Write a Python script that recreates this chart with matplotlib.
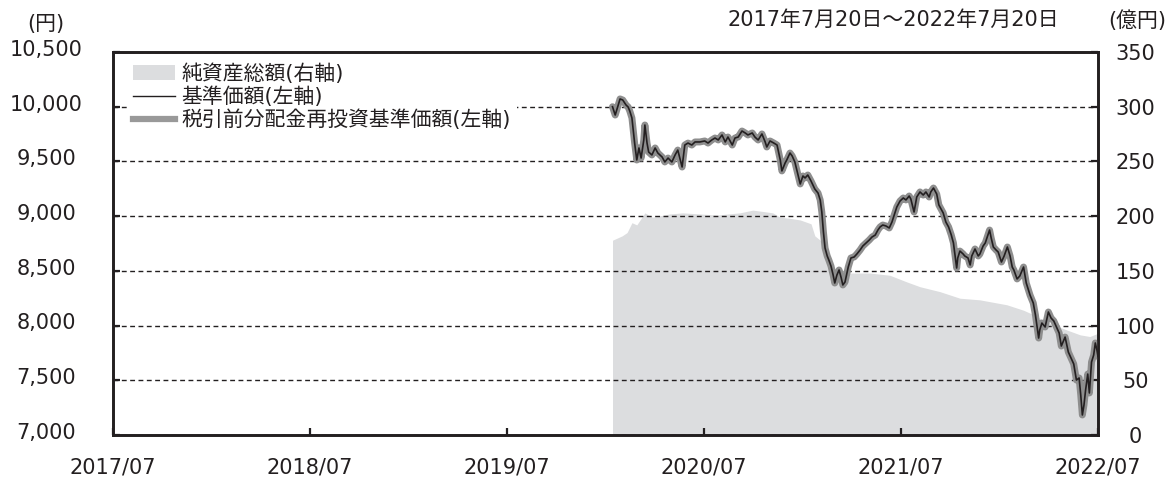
import matplotlib
matplotlib.use('Agg')
import matplotlib.pyplot as plt
import matplotlib.transforms as mtransforms
from matplotlib.patches import Patch
from matplotlib.lines import Line2D
import pandas as pd

plt.rcParams['font.family'] = ['DejaVu Sans', 'Noto Sans CJK JP']

# ---------------- data ----------------
nav_dates = [
'2020-02-01','2020-02-06','2020-02-11','2020-02-15','2020-02-20','2020-02-26','2020-03-01','2020-03-04','2020-03-08','2020-03-13',
'2020-03-17','2020-03-21','2020-03-25','2020-03-30','2020-04-01','2020-04-05','2020-04-08','2020-04-14','2020-04-20','2020-04-25',
'2020-05-03','2020-05-08','2020-05-14','2020-05-21','2020-05-27','2020-06-01','2020-06-09','2020-06-14','2020-06-20','2020-06-27',
'2020-07-03','2020-07-12','2020-07-21','2020-07-27','2020-08-03','2020-08-09','2020-08-15','2020-08-22','2020-08-28','2020-09-02',
'2020-09-10','2020-09-15','2020-09-21','2020-09-28','2020-10-04','2020-10-09','2020-10-17','2020-10-22','2020-10-28','2020-11-04',
'2020-11-10','2020-11-13','2020-11-19','2020-11-26','2020-12-02','2020-12-08','2020-12-11','2020-12-17','2020-12-20','2020-12-26',
'2020-12-30','2021-01-04','2021-01-10','2021-01-14','2021-01-19','2021-01-23','2021-01-28','2021-02-03','2021-02-10','2021-02-16',
'2021-02-20','2021-02-23','2021-02-26','2021-03-01','2021-03-05','2021-03-08','2021-03-12','2021-03-16','2021-03-19','2021-03-23',
'2021-03-27','2021-03-31','2021-04-03','2021-04-07','2021-04-13','2021-04-18','2021-04-24','2021-04-29','2021-05-05','2021-05-10',
'2021-05-16','2021-05-22','2021-05-27','2021-06-02','2021-06-07','2021-06-11','2021-06-16','2021-06-22','2021-06-28','2021-07-03',
'2021-07-09','2021-07-12','2021-07-18','2021-07-24','2021-07-29','2021-08-04','2021-08-07','2021-08-13','2021-08-18','2021-08-24',
'2021-08-30','2021-09-04','2021-09-10','2021-09-13','2021-09-18','2021-09-24','2021-09-28','2021-10-06','2021-10-11','2021-10-16',
'2021-10-21','2021-10-25','2021-10-31','2021-11-02','2021-11-06','2021-11-12','2021-11-15','2021-11-21','2021-11-25','2021-11-28',
'2021-12-04','2021-12-10','2021-12-13','2021-12-19','2021-12-23','2021-12-31','2022-01-03','2022-01-07','2022-01-12','2022-01-16',
'2022-01-22','2022-01-27','2022-02-02','2022-02-07','2022-02-11','2022-02-14','2022-02-20','2022-02-25','2022-03-04','2022-03-09',
'2022-03-16','2022-03-22','2022-03-26','2022-04-01','2022-04-03','2022-04-07','2022-04-13','2022-04-19','2022-04-24','2022-04-29',
'2022-05-04','2022-05-09','2022-05-13','2022-05-20','2022-05-26','2022-05-31','2022-06-05','2022-06-10','2022-06-15','2022-06-18',
'2022-06-21','2022-06-24','2022-06-27','2022-07-01','2022-07-04','2022-07-08','2022-07-12','2022-07-15','2022-07-18','2022-07-20',
]

# 基準価額 (円)
nav_values = [
10000, 9924, 10007, 10071, 10061, 10016, 9997, 9961, 9897, 9668,
9513, 9623, 9531, 9696, 9833, 9668, 9586, 9559, 9623, 9577,
9540, 9495, 9531, 9495, 9559, 9604, 9449, 9650, 9668, 9650,
9678, 9678, 9687, 9668, 9696, 9714, 9696, 9742, 9678, 9723,
9650, 9714, 9723, 9778, 9760, 9742, 9760, 9723, 9696, 9751,
9678, 9632, 9687, 9668, 9650, 9513, 9413, 9486, 9513, 9577,
9550, 9495, 9376, 9294, 9367, 9349, 9376, 9321, 9248, 9211,
9148, 9038, 8855, 8709, 8636, 8599, 8544, 8462, 8389, 8462,
8508, 8435, 8371, 8398, 8535, 8618, 8627, 8654, 8691, 8727,
8755, 8782, 8809, 8827, 8873, 8901, 8919, 8910, 8892, 8946,
9038, 9083, 9138, 9166, 9148, 9184, 9157, 9038, 9175, 9221,
9193, 9221, 9175, 9221, 9257, 9202, 9102, 9029, 8946, 8901,
8828, 8755, 8526, 8618, 8681, 8654, 8636, 8618, 8554, 8636,
8700, 8636, 8654, 8727, 8755, 8873, 8800, 8718, 8691, 8672,
8581, 8636, 8718, 8636, 8535, 8508, 8426, 8453, 8535, 8389,
8279, 8206, 8097, 7886, 7960, 8023, 7987, 8124, 8069, 8042,
7987, 7932, 7813, 7895, 7758, 7703, 7649, 7502, 7521, 7366,
7183, 7274, 7411, 7557, 7384, 7667, 7731, 7841, 7777, 7717,
]

# 税引前分配金再投資基準価額 (円) - no distributions, identical to NAV on the chart
reinvest_values = list(nav_values)

asset_dates = [
'2020-02-01','2020-02-19','2020-02-28','2020-03-08','2020-03-17','2020-04-01','2020-04-15','2020-05-17',
'2020-06-10','2020-07-12','2020-08-13','2020-09-24','2020-10-18','2020-11-10','2020-11-24','2020-12-08',
'2020-12-26','2021-01-14','2021-02-03','2021-02-10','2021-02-20','2021-03-03','2021-03-19','2021-04-16',
'2021-05-23','2021-06-29','2021-07-30','2021-08-24','2021-09-30','2021-11-06','2021-12-13','2022-02-01',
'2022-03-04','2022-03-22','2022-04-13','2022-05-23','2022-06-17','2022-07-05','2022-07-20',
]
# 純資産総額 (億円)
asset_values = [
178, 182, 185, 194, 192, 203, 199, 202,
203, 202, 201, 203, 205.5, 204, 203, 199,
198, 196.5, 193, 182, 178, 165, 150, 148,
148, 146, 140, 135.5, 131, 125, 123.5, 119,
114, 110, 104, 96, 91.5, 90, 93,
]

left_ticks = [7000, 7500, 8000, 8500, 9000, 9500, 10000, 10500]
right_ticks = [0, 50, 100, 150, 200, 250, 300, 350]
x_tick_dates = ['2017-07-20', '2018-07-20', '2019-07-20', '2020-07-20', '2021-07-20', '2022-07-20']
x_tick_labels = ['2017/07', '2018/07', '2019/07', '2020/07', '2021/07', '2022/07']

legend_labels = ['純資産総額(右軸)', '基準価額(左軸)', '税引前分配金再投資基準価額(左軸)']
unit_left = '(円)'
unit_right = '(億円)'
period_text = '2017年7月20日～2022年7月20日'

# ---------------- style ----------------
BLACK = '#231f20'
AREA = '#dcdddf'
GRAY = '#8e8e8e'
FS = 15

W, H = 1172, 479
fig = plt.figure(figsize=(W / 100, H / 100), dpi=100)
L, R, T, B = 113, 1098, 52, 435
ax = fig.add_axes([L / W, 1 - B / H, (R - L) / W, (B - T) / H])

# base axes: net assets (right scale)
ax.fill_between(pd.to_datetime(asset_dates), asset_values, 0, color=AREA, lw=0, zorder=1)
ax.set_ylim(0, 350)
ax.set_axisbelow('line')
ax.grid(axis='y', color=BLACK, linestyle=(0, (3.5, 2.5)), lw=1.0)
ax.grid(axis='x', visible=False)
ax.set_xlim(pd.Timestamp('2017-07-20'), pd.Timestamp('2022-07-20'))
ax.set_xticks(pd.to_datetime(x_tick_dates))
ax.set_xticklabels(x_tick_labels)

# twin axes: prices (left scale)
ax2 = ax.twinx()
ax2.plot(pd.to_datetime(nav_dates), reinvest_values, color=GRAY, lw=5.0,
         solid_joinstyle='round', solid_capstyle='round', zorder=2)
ax2.plot(pd.to_datetime(nav_dates), nav_values, color=BLACK, lw=1.2, zorder=3)
ax2.set_ylim(7000, 10500)

# put axes sides in place (after twinx, which resets ax to the left)
ax.yaxis.tick_right()
ax2.yaxis.tick_left()
ax.set_yticks(right_ticks)
ax.set_yticklabels([f'{v:,}' for v in right_ticks])
ax2.set_yticks(left_ticks)
ax2.set_yticklabels([f'{v:,}' for v in left_ticks])

for a in (ax, ax2):
    for s in a.spines.values():
        s.set_linewidth(1.9)
        s.set_color(BLACK)

ax.tick_params(axis='x', direction='in', length=5, width=1.6, color=BLACK,
               labelsize=FS, pad=16, labelcolor=BLACK, top=False)
ax.tick_params(axis='y', direction='in', length=5, width=1.6, color=BLACK,
               labelsize=FS, pad=27, labelcolor=BLACK, left=False, right=True,
               labelleft=False, labelright=True)
ax2.tick_params(axis='y', direction='in', length=5, width=1.6, color=BLACK,
                labelsize=FS, pad=48, labelcolor=BLACK, left=True, right=False,
                labelleft=True, labelright=False)

for lbl in ax.get_yticklabels():
    lbl.set_horizontalalignment('center')
up = mtransforms.ScaledTranslation(0, 3 / 72, fig.dpi_scale_trans)
for lbl in ax2.get_yticklabels():
    lbl.set_horizontalalignment('center')
    lbl.set_transform(lbl.get_transform() + up)

handles = [Patch(facecolor=AREA, edgecolor='none'),
           Line2D([], [], color=BLACK, lw=1.0),
           Line2D([], [], color='#999999', lw=4.5)]
leg = ax2.legend(handles, legend_labels, loc='upper left',
                 bbox_to_anchor=(14 / (R - L), 1 - 5 / (B - T)),
                 frameon=True, facecolor='white', edgecolor='none', framealpha=1,
                 fancybox=False, fontsize=FS, handlelength=2.0, handletextpad=0.3,
                 labelspacing=0.12, borderpad=0.3, borderaxespad=0)
for t in leg.get_texts():
    t.set_color(BLACK)

fig.text(46 / W, 1 - 24 / H, unit_left, ha='center', va='center', fontsize=FS, color=BLACK)
fig.text(893 / W, 1 - 20 / H, period_text, ha='center', va='center', fontsize=FS, color=BLACK)
fig.text(1137 / W, 1 - 21 / H, unit_right, ha='center', va='center', fontsize=FS, color=BLACK)

fig.savefig('out.png', dpi=100)
